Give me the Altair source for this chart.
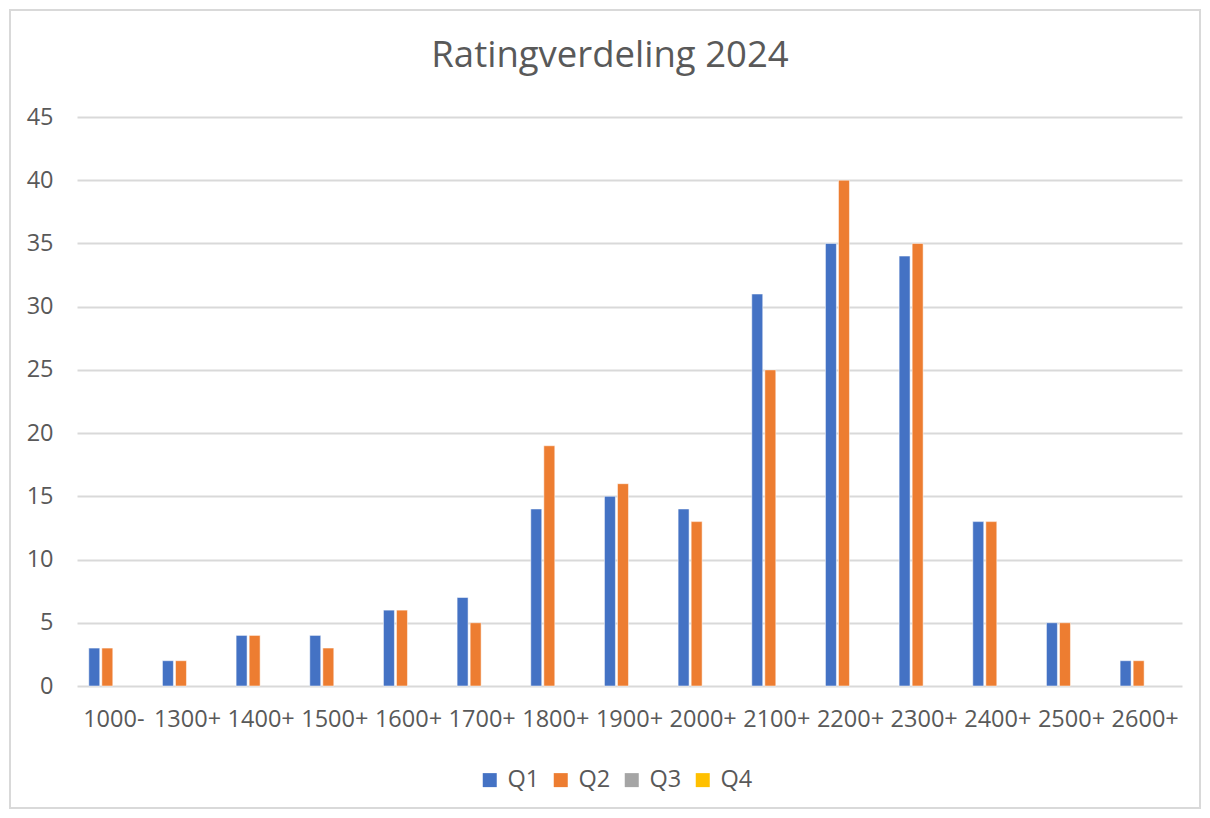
import altair as alt
import pandas as pd

categories = ["1000-", "1300+", "1400+", "1500+", "1600+", "1700+", "1800+", "1900+",
              "2000+", "2100+", "2200+", "2300+", "2400+", "2500+", "2600+"]
q1 = [3, 2, 4, 4, 6, 7, 14, 15, 14, 31, 35, 34, 13, 5, 2]
q2 = [3, 2, 4, 3, 6, 5, 19, 16, 13, 25, 40, 35, 13, 5, 2]
series = ["Q1", "Q2", "Q3", "Q4"]
colors = ["#4472C4", "#ED7D31", "#A5A5A5", "#FFC000"]
title_text = "Ratingverdeling 2024"

rows = []
for c, a, b in zip(categories, q1, q2):
    rows.append({"cat": c, "series": "Q1", "value": a})
    rows.append({"cat": c, "series": "Q2", "value": b})
df = pd.DataFrame(rows)

FONT = "Open Sans"
GREY = "#595959"
FS = 23.5

bars = alt.Chart(df).mark_bar(stroke="white", strokeWidth=0.5).encode(
    x=alt.X("cat:N", sort=categories, title=None,
            scale=alt.Scale(domain=categories, paddingInner=0.32, paddingOuter=0.16),
            axis=alt.Axis(labelAngle=0, labelFontSize=FS, labelColor=GREY, labelFont=FONT,
                          domain=False, ticks=False, labelPadding=21)),
    xOffset=alt.XOffset("series:N", scale=alt.Scale(domain=series, paddingInner=0.16)),
    y=alt.Y("value:Q", title=None,
            scale=alt.Scale(domain=[0, 45], nice=False),
            axis=alt.Axis(values=list(range(0, 50, 5)), labelFontSize=FS, labelColor=GREY,
                          labelFont=FONT, domain=False, ticks=False, labelPadding=24,
                          gridColor="#D9D9D9", gridWidth=2)),
    color=alt.Color("series:N", scale=alt.Scale(domain=series, range=colors),
                    legend=alt.Legend(title=None, orient="none", direction="horizontal",
                                      legendX=401, legendY=651, symbolType="square",
                                      symbolSize=196, symbolStrokeWidth=0,
                                      labelFontSize=FS, labelColor=GREY, labelFont=FONT,
                                      columnPadding=9, labelOffset=6, symbolOffset=0)),
)

title = alt.Chart(pd.DataFrame({"t": [title_text]})).mark_text(
    fontSize=36.5, color=GREY, font=FONT, align="center", baseline="middle"
).encode(x=alt.value(533), y=alt.value(-61), text="t:N")

border = alt.Chart(pd.DataFrame({"a": [0]})).mark_rect(
    fill=None, stroke="#D9D9D9", strokeWidth=2
).encode(x=alt.value(-67), x2=alt.value(1123), y=alt.value(-107), y2=alt.value(691))

chart = alt.layer(border, bars, title).properties(
    width=1105, height=569,
    autosize=alt.AutoSizeParams(type="none"),
    padding={"left": 69, "top": 109, "right": 20, "bottom": 124},
).configure_view(stroke=None)

chart.save("out.html", embed_options={"renderer": "svg", "actions": False})
